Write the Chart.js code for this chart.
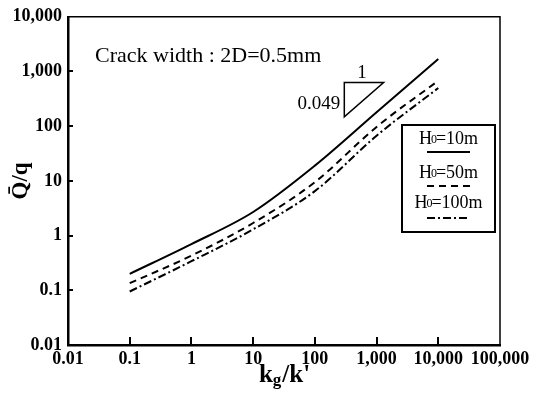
<!DOCTYPE html>
<html>
<head>
<meta charset="utf-8">
<script src="https://cdn.jsdelivr.net/npm/chart.js@4/dist/chart.umd.min.js"></script>
<style>
html,body{margin:0;padding:0;background:#fff;}
#wrap{width:534px;height:396px;}
</style>
</head>
<body>
<div id="wrap"><canvas id="c" width="534" height="396"></canvas></div>
<script>
// kg/k' values
const categories = [0.1, 1, 10, 100, 1000, 10000];
// Q/q for each H0
const seriesH10 = [0.2, 0.7, 2.7, 19, 180, 1700];
const seriesH50 = [0.135, 0.43, 1.7, 9.5, 97, 680];
const seriesH100 = [0.095, 0.34, 1.3, 6.5, 67, 500];
const seriesNames = ['H0=10m', 'H0=50m', 'H0=100m'];

const xTickValues = [0.01, 0.1, 1, 10, 100, 1000, 10000, 100000];
const xTickLabels = ['0.01', '0.1', '1', '10', '100', '1,000', '10,000', '100,000'];
const yTickValues = [0.01, 0.1, 1, 10, 100, 1000, 10000];
const yTickLabels = ['0.01', '0.1', '1', '10', '100', '1,000', '10,000'];

const annotationText = 'Crack width : 2D=0.5mm';
const slopeRise = '0.049';
const slopeRun = '1';

const SERIF = '"Liberation Serif", "DejaVu Serif", serif';

function toPts(vals){ return categories.map((x,i)=>({x:x, y:vals[i]})); }

const overlay = {
  id:'overlay',
  afterDraw(chart){
    const ctx = chart.ctx, a = chart.chartArea;
    const xs = chart.scales.x, ys = chart.scales.y;
    ctx.save();
    // top and right borders
    ctx.strokeStyle = '#000';
    ctx.lineWidth = 1.5;
    ctx.beginPath();
    ctx.moveTo(a.left, a.top); ctx.lineTo(a.right, a.top); ctx.lineTo(a.right, a.bottom);
    ctx.stroke();
    // inward ticks
    ctx.lineWidth = 2;
    xTickValues.slice(1, -1).forEach(v=>{
      const px = Math.round(xs.getPixelForValue(v));
      ctx.beginPath(); ctx.moveTo(px, a.bottom); ctx.lineTo(px, a.bottom-8); ctx.stroke();
    });
    yTickValues.slice(1, -1).forEach(v=>{
      const py = Math.round(ys.getPixelForValue(v));
      ctx.beginPath(); ctx.moveTo(a.left, py); ctx.lineTo(a.left+5, py); ctx.stroke();
    });
    // annotation text
    ctx.fillStyle = '#000';
    ctx.font = '22px ' + SERIF;
    ctx.textAlign = 'left'; ctx.textBaseline = 'middle';
    ctx.fillText(annotationText, 95, 56);
    // slope triangle
    const tx1 = xs.getPixelForValue(300), tx2 = xs.getPixelForValue(1300);
    const ty1 = ys.getPixelForValue(630), ty2 = ys.getPixelForValue(148);
    ctx.lineWidth = 1.5;
    ctx.beginPath(); ctx.moveTo(tx1, ty2); ctx.lineTo(tx1, ty1); ctx.lineTo(tx2, ty1); ctx.closePath(); ctx.stroke();
    ctx.font = '19px ' + SERIF;
    ctx.textAlign = 'center'; ctx.textBaseline = 'alphabetic';
    ctx.fillText(slopeRun, (tx1+tx2)/2 - 2, ty1 - 4);
    ctx.textAlign = 'right'; ctx.textBaseline = 'middle';
    ctx.fillText(slopeRise, tx1 - 4, (ty1+ty2)/2 + 4);
    // legend box
    const lx = 402, ly = 125, lw = 93, lh = 107;
    ctx.fillStyle = '#fff';
    ctx.fillRect(lx, ly, lw, lh);
    ctx.lineWidth = 2;
    ctx.strokeRect(lx, ly, lw, lh);
    const styles = [[], [7,5], [8,3,2,3]];
    const textY = [139, 173, 203];
    const lineY = [152, 186, 218];
    seriesNames.forEach((name, i)=>{
      const m = name.match(/^H0(.*)$/);
      const rest = m ? m[1] : name;
      ctx.fillStyle = '#000';
      ctx.textBaseline = 'middle';
      ctx.font = '18px ' + SERIF;
      const wH = ctx.measureText('H').width;
      ctx.font = '12px ' + SERIF;
      const w0 = ctx.measureText('0').width;
      ctx.font = '18px ' + SERIF;
      const wR = ctx.measureText(rest).width;
      const total = wH + w0 + wR - 2;
      let sx = lx + lw/2 - total/2;
      ctx.textAlign = 'left';
      ctx.fillText('H', sx, textY[i]);
      ctx.font = '12px ' + SERIF;
      ctx.fillText('0', sx + wH - 1, textY[i] + 1);
      ctx.font = '18px ' + SERIF;
      ctx.fillText(rest, sx + wH + w0 - 2, textY[i]);
      ctx.setLineDash(styles[i]);
      ctx.lineWidth = 2;
      ctx.beginPath(); ctx.moveTo(427, lineY[i]); ctx.lineTo(470, lineY[i]); ctx.stroke();
      ctx.setLineDash([]);
    });
    // x title kg/k'
    ctx.fillStyle = '#000';
    ctx.font = 'bold 25px ' + SERIF;
    const wk = ctx.measureText('k').width;
    ctx.font = 'bold 17px ' + SERIF;
    const wg = ctx.measureText('g').width;
    ctx.font = 'bold 25px ' + SERIF;
    const wr = ctx.measureText("/k'").width;
    let cx = (a.left + a.right)/2 - (wk + wg + wr)/2;
    ctx.textAlign = 'left'; ctx.textBaseline = 'alphabetic';
    ctx.fillText('k', cx, 382);
    ctx.font = 'bold 17px ' + SERIF;
    ctx.fillText('g', cx + wk, 385);
    ctx.font = 'bold 25px ' + SERIF;
    ctx.fillText("/k'", cx + wk + wg + 1, 382);
    // y title Q̄/q
    ctx.translate(21, (a.top + a.bottom)/2);
    ctx.rotate(-Math.PI/2);
    ctx.textAlign = 'center'; ctx.textBaseline = 'middle';
    ctx.font = 'bold 23px ' + SERIF;
    ctx.fillText('Q\u0304/q', 0, 0);
    ctx.restore();
  }
};

new Chart(document.getElementById('c'), {
  type: 'line',
  data: {
    datasets: [
      {label: seriesNames[0], data: toPts(seriesH10), borderColor:'#000', borderWidth:2, borderDash:[], pointRadius:0, tension:0.4, cubicInterpolationMode:'monotone', fill:false},
      {label: seriesNames[1], data: toPts(seriesH50), borderColor:'#000', borderWidth:2, borderDash:[7,5], pointRadius:0, tension:0.4, cubicInterpolationMode:'monotone', fill:false},
      {label: seriesNames[2], data: toPts(seriesH100), borderColor:'#000', borderWidth:2, borderDash:[8,3,2,3], pointRadius:0, tension:0.4, cubicInterpolationMode:'monotone', fill:false}
    ]
  },
  options: {
    responsive: false,
    animation: false,
    devicePixelRatio: 1,
    layout: {padding: {left: 0, right: 34, top: 12, bottom: 0}},
    plugins: {legend: {display:false}, tooltip: {enabled:false}, title:{display:false}},
    scales: {
      x: {
        type: 'logarithmic',
        min: 0.01, max: 100000,
        afterBuildTicks: s => { s.ticks = xTickValues.map(v=>({value:v})); },
        afterFit: s => { s.height = 51; },
        grid: {display:false, drawTicks:false},
        border: {display:true, color:'#000', width:2.5},
        ticks: {
          autoSkip:false, maxRotation:0, padding:4, color:'#000',
          font: {family: SERIF, size: 18, weight:'bold'},
          callback: (v) => { const i = xTickValues.indexOf(v); return i >= 0 ? xTickLabels[i] : ''; }
        }
      },
      y: {
        type: 'logarithmic',
        min: 0.01, max: 10000,
        afterBuildTicks: s => { s.ticks = yTickValues.map(v=>({value:v})); },
        afterFit: s => { s.width = 68; },
        grid: {display:false, drawTicks:false},
        border: {display:true, color:'#000', width:2.5},
        ticks: {
          autoSkip:false, padding:6, color:'#000',
          font: {family: SERIF, size: 18, weight:'bold'},
          callback: (v) => { const i = yTickValues.indexOf(v); return i >= 0 ? yTickLabels[i] : ''; }
        }
      }
    }
  },
  plugins: [overlay]
});
</script>
</body>
</html>
